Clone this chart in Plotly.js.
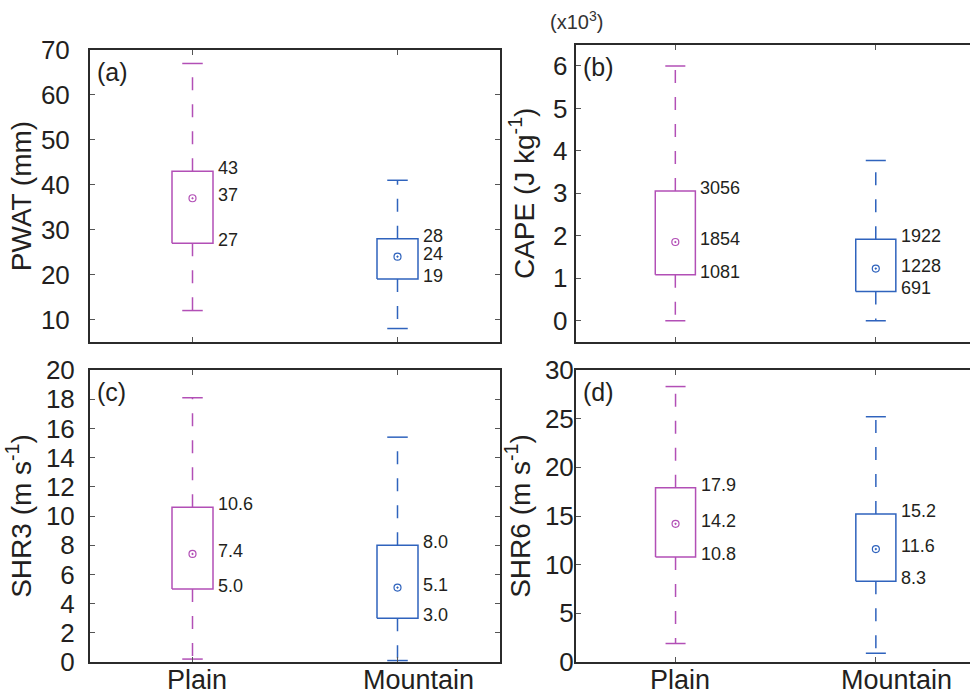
<!DOCTYPE html>
<html><head><meta charset="utf-8">
<script src="https://cdn.plot.ly/plotly-3.0.1.min.js"></script>
<style>html,body{margin:0;padding:0;background:#fff}#chart{width:970px;height:696px}</style>
</head><body><div id="chart"></div>
<script>
const categories = ['Plain', 'Mountain'];
const colors = ['#b24fb6', '#2f63bd'];

// (a) PWAT (mm)
const pwatLow  = [12, 8];
const pwatQ1   = [27, 19];
const pwatMed  = [37, 24];
const pwatQ3   = [43, 28];
const pwatHigh = [67, 41];

// (b) CAPE (J kg-1)
const capeLow  = [0, 0];
const capeQ1   = [1081, 691];
const capeMed  = [1854, 1228];
const capeQ3   = [3056, 1922];
const capeHigh = [6000, 3775];
const capeTickVals = [0, 1000, 2000, 3000, 4000, 5000, 6000];
const capeTickText = ['0', '1', '2', '3', '4', '5', '6'];

// (c) SHR3 (m s-1)
const shr3Low  = [0.2, 0.1];
const shr3Q1   = [5.0, 3.0];
const shr3Med  = [7.4, 5.1];
const shr3Q3   = [10.6, 8.0];
const shr3High = [18.1, 15.4];

// (d) SHR6 (m s-1)
const shr6Low  = [1.9, 0.9];
const shr6Q1   = [10.8, 8.3];
const shr6Med  = [14.2, 11.6];
const shr6Q3   = [17.9, 15.2];
const shr6High = [28.3, 25.2];

const W = 970, H = 696;
const panels = [
  {tag:'(a)', title:'PWAT (mm)', low:pwatLow, q1:pwatQ1, med:pwatMed, q3:pwatQ3, high:pwatHigh, digits:0,
   xd:[90,500], yd:[50,342], yrange:[5,70], tickvals:[10,20,30,40,50,60,70], ticktext:null, xr:[0.5,2.5],
   mirrorY:true, xlabels:false, lso:13, tso:1},
  {tag:'(b)', title:'CAPE (J kg<sup>-1</sup>)', low:capeLow, q1:capeQ1, med:capeMed, q3:capeQ3, high:capeHigh, digits:0,
   xd:[575.7,970], yd:[44.7,342], yrange:[-500,6500], tickvals:capeTickVals, ticktext:capeTickText, xr:[0.503,2.47],
   mirrorY:false, xlabels:false, lso:1, tso:10},
  {tag:'(c)', title:'SHR3 (m s<sup>-1</sup>)', low:shr3Low, q1:shr3Q1, med:shr3Med, q3:shr3Q3, high:shr3High, digits:1,
   xd:[90,500], yd:[370,662], yrange:[0,20], tickvals:[0,2,4,6,8,10,12,14,16,18,20], ticktext:null, xr:[0.5,2.5],
   mirrorY:true, xlabels:true, lso:8, tso:6},
  {tag:'(d)', title:'SHR6 (m s<sup>-1</sup>)', low:shr6Low, q1:shr6Q1, med:shr6Med, q3:shr6Q3, high:shr6High, digits:1,
   xd:[576,970], yd:[370,662], yrange:[0,30], tickvals:[0,5,10,15,20,25,30], ticktext:null, xr:[0.503,2.47],
   mirrorY:false, xlabels:true, lso:-5, tso:6}
];
const catShift = [4, 21];

const font = 'Liberation Sans, Arial, sans-serif';
const txt = '#231f20';
const axisCol = '#2b2b2b';
const traces = [];
const annotations = [];
const layout = {
  width: W, height: H,
  margin: {l:0, r:0, t:0, b:0},
  paper_bgcolor: '#fff', plot_bgcolor: '#fff',
  showlegend: false,
  font: {family: font, color: txt, size: 26},
  annotations: annotations
};

const boxHalf = 0.1, capHalf = 0.05;

panels.forEach((p, k) => {
  const n = k + 1;
  const xa = 'x' + (n === 1 ? '' : n), ya = 'y' + (n === 1 ? '' : n);
  const xkey = 'xaxis' + (n === 1 ? '' : n), ykey = 'yaxis' + (n === 1 ? '' : n);
  layout[xkey] = {
    domain: [p.xd[0] / W, p.xd[1] / W], range: p.xr, anchor: ya,
    tickvals: [1, 2], ticktext: categories, showticklabels: false,
    ticks: 'inside', ticklen: 5, tickwidth: 1, tickcolor: '#555',
    showline: true, linecolor: axisCol, linewidth: 2, mirror: 'ticks',
    showgrid: false, zeroline: false, fixedrange: true
  };
  layout[ykey] = {
    domain: [1 - p.yd[1] / H, 1 - p.yd[0] / H], range: p.yrange, anchor: xa,
    tickvals: p.tickvals, ticktext: p.ticktext || p.tickvals.map(String),
    ticks: 'inside', ticklen: 5, tickwidth: 1, tickcolor: '#555',
    showline: true, linecolor: axisCol, linewidth: 2, mirror: p.mirrorY ? 'ticks' : false,
    showgrid: false, zeroline: false, fixedrange: true,
    tickfont: {size: 26, color: txt, family: font}, ticklabelstandoff: p.lso,
    title: {text: p.title, font: {size: 28, color: txt, family: font}, standoff: p.tso}
  };

  categories.forEach((cat, i) => {
    const c = i + 1;
    const col = colors[i];
    traces.push({type:'scatter', mode:'lines', xaxis:xa, yaxis:ya, hoverinfo:'skip',
      x:[c-boxHalf, c+boxHalf, c+boxHalf, c-boxHalf, c-boxHalf],
      y:[p.q1[i], p.q1[i], p.q3[i], p.q3[i], p.q1[i]],
      line:{color:col, width:1.5}});
    traces.push({type:'scatter', mode:'lines', xaxis:xa, yaxis:ya, hoverinfo:'skip',
      x:[c, c], y:[p.q3[i], p.high[i]], line:{color:col, width:1.5, dash:'13px,14px'}});
    traces.push({type:'scatter', mode:'lines', xaxis:xa, yaxis:ya, hoverinfo:'skip',
      x:[c, c], y:[p.q1[i], p.low[i]], line:{color:col, width:1.5, dash:'13px,14px'}});
    traces.push({type:'scatter', mode:'lines', xaxis:xa, yaxis:ya, hoverinfo:'skip',
      x:[c-capHalf, c+capHalf, null, c-capHalf, c+capHalf],
      y:[p.high[i], p.high[i], null, p.low[i], p.low[i]], line:{color:col, width:1.5}});
    traces.push({type:'scatter', mode:'markers', xaxis:xa, yaxis:ya, hoverinfo:'skip',
      x:[c], y:[p.med[i]], marker:{symbol:'circle-open-dot', size:7, color:col, line:{width:1.2}}});
    [p.q3[i], p.med[i], p.q1[i]].forEach(v => {
      annotations.push({xref:xa, yref:ya, x:c+boxHalf, y:v, xanchor:'left', yanchor:'middle',
        xshift:3, yshift:3, showarrow:false, text:v.toFixed(p.digits),
        font:{size:18, color:txt, family:font}});
    });
    if (p.xlabels) {
      annotations.push({xref:xa, yref:'paper', x:c, y:0, xanchor:'center', yanchor:'bottom',
        xshift:catShift[i], yshift:-1, showarrow:false, text:cat, font:{size:27, color:txt, family:font}});
    }
  });

  annotations.push({xref:'paper', yref:'paper', x:p.xd[0] / W, y:1 - p.yd[0] / H,
    xanchor:'left', yanchor:'top', xshift:5, yshift:-6, showarrow:false, text:p.tag,
    font:{size:25, color:txt, family:font}});
});

annotations.push({xref:'paper', yref:'paper', x:548 / W, y:1 - 20 / H, xanchor:'left', yanchor:'middle',
  showarrow:false, text:'(x10<sup>3</sup>)', font:{size:20, color:'#333', family:font}});

Plotly.newPlot('chart', traces, layout, {staticPlot:true, displayModeBar:false});
</script>
</body></html>
